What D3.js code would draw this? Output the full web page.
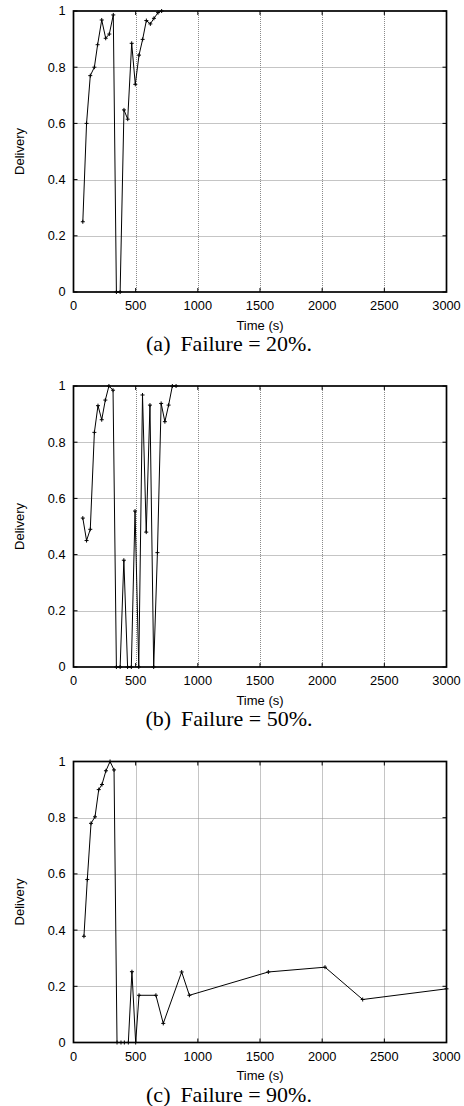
<!DOCTYPE html>
<html>
<head>
<meta charset="utf-8">
<script src="https://cdn.jsdelivr.net/npm/d3@7"></script>
<style>
  html, body { margin: 0; padding: 0; background: #fff; }
  svg { display: block; }
  .tick-label { font-family: "Liberation Sans", Arial, sans-serif; font-size: 12.8px; fill: #000; }
  .axis-title { font-family: "Liberation Sans", Arial, sans-serif; font-size: 13px; fill: #000; }
  .caption { font-family: "Liberation Serif", "Times New Roman", serif; font-size: 22px; fill: #000; }
</style>
</head>
<body>
<svg id="chart" width="464" height="1106"></svg>
<script>
// Delivery ratio over time for three failure rates
const timesA = [75, 105, 135, 168, 194, 227, 259, 288, 320, 345, 375, 406, 436, 468, 497, 527, 556, 586, 618, 647, 680, 709];
const deliveryA = [0.25, 0.60, 0.77, 0.80, 0.88, 0.968, 0.903, 0.918, 0.986, 0, 0, 0.648, 0.615, 0.885, 0.739, 0.843, 0.899, 0.966, 0.954, 0.974, 0.994, 1.0];

const timesB = [75, 105, 135, 168, 197, 227, 256, 285, 318, 345, 375, 405, 435, 465, 495, 525, 555, 585, 615, 645, 675, 705, 735, 765, 795, 825];
const deliveryB = [0.53, 0.45, 0.49, 0.835, 0.93, 0.88, 0.95, 1.0, 0.985, 0, 0, 0.38, 0, 0, 0.555, 0, 0.968, 0.48, 0.932, 0, 0.407, 0.938, 0.873, 0.932, 1.0, 1.0];

const timesC = [84, 111, 141, 173, 203, 229, 261, 294, 326, 350, 382, 409, 441, 470, 500, 527, 663, 722, 870, 932, 1567, 2023, 2326, 3000];
const deliveryC = [0.378, 0.58, 0.78, 0.803, 0.90, 0.918, 0.967, 1.0, 0.97, 0, 0, 0, 0, 0.252, 0, 0.168, 0.168, 0.068, 0.251, 0.168, 0.251, 0.268, 0.153, 0.191];

const captions = ["(a)", "(b)", "(c)"];
const failureLabels = ["Failure = 20%.", "Failure = 50%.", "Failure = 90%."];

const xTicks = [0, 500, 1000, 1500, 2000, 2500, 3000];
const yTicks = [0, 0.2, 0.4, 0.6, 0.8, 1];
const xTitle = "Time (s)";
const yTitle = "Delivery";

const panels = [
  { times: timesA, values: deliveryA },
  { times: timesB, values: deliveryB },
  { times: timesC, values: deliveryC }
];

const svg = d3.select("#chart");
const left = 73.5, right = 446.5;
const panelTops = [11, 386, 761.5];
const plotH = 281;

const x = d3.scaleLinear().domain([0, 3000]).range([left, right]);

panels.forEach((p, i) => {
  const top = panelTops[i], bottom = top + plotH;
  const y = d3.scaleLinear().domain([0, 1]).range([bottom, top]);
  const g = svg.append("g");

  // dotted grid
  g.selectAll("line.gx").data(xTicks.filter(t => t > 0 && t < 3000)).join("line")
    .attr("x1", d => Math.round(x(d)) + 0.5).attr("x2", d => Math.round(x(d)) + 0.5)
    .attr("y1", top).attr("y2", bottom)
    .attr("stroke", "#8a8a8a").attr("stroke-width", 1).attr("stroke-dasharray", "1,1");
  g.selectAll("line.gy").data(yTicks.filter(t => t > 0 && t < 1)).join("line")
    .attr("y1", d => Math.round(y(d)) + 0.5).attr("y2", d => Math.round(y(d)) + 0.5)
    .attr("x1", left).attr("x2", right)
    .attr("stroke", "#8a8a8a").attr("stroke-width", 1).attr("stroke-dasharray", "1,1");

  // inward ticks on all four sides
  const tl = 4;
  xTicks.forEach(t => {
    g.append("line").attr("x1", x(t)).attr("x2", x(t)).attr("y1", bottom).attr("y2", bottom - tl).attr("stroke", "#000");
    g.append("line").attr("x1", x(t)).attr("x2", x(t)).attr("y1", top).attr("y2", top + tl).attr("stroke", "#000");
  });
  yTicks.forEach(t => {
    g.append("line").attr("x1", left).attr("x2", left + tl).attr("y1", y(t)).attr("y2", y(t)).attr("stroke", "#000");
    g.append("line").attr("x1", right).attr("x2", right - tl).attr("y1", y(t)).attr("y2", y(t)).attr("stroke", "#000");
  });

  // frame
  g.append("rect").attr("x", left).attr("y", top).attr("width", right - left).attr("height", plotH)
    .attr("fill", "none").attr("stroke", "#000").attr("stroke-width", 1.7);

  // tick labels
  g.selectAll("text.xt").data(xTicks).join("text")
    .attr("class", "tick-label").attr("x", d => x(d)).attr("y", bottom + 18)
    .attr("text-anchor", "middle").text(d => d);
  g.selectAll("text.yt").data(yTicks).join("text")
    .attr("class", "tick-label").attr("x", 65.5).attr("y", d => y(d)).attr("dy", "0.35em")
    .attr("text-anchor", "end").text(d => d3.format("~g")(d));

  // axis titles
  g.append("text").attr("class", "axis-title").attr("x", (left + right) / 2).attr("y", bottom + 37.5)
    .attr("text-anchor", "middle").text(xTitle);
  g.append("text").attr("class", "axis-title")
    .attr("transform", `translate(23.5,${(top + bottom) / 2}) rotate(-90)`)
    .attr("text-anchor", "middle").text(yTitle);

  // series line with plus markers
  const pts = p.times.map((t, k) => [t, p.values[k]]);
  g.append("path").datum(pts)
    .attr("d", d3.line().x(d => x(d[0])).y(d => y(d[1])))
    .attr("fill", "none").attr("stroke", "#000").attr("stroke-width", 1);
  const s = 2;
  g.selectAll("path.mk").data(pts).join("path")
    .attr("d", d => {
      const cx = x(d[0]), cy = y(d[1]);
      return `M${cx - s},${cy}H${cx + s}M${cx},${cy - s}V${cy + s}`;
    })
    .attr("stroke", "#000").attr("stroke-width", 1).attr("fill", "none");

  // subfigure caption
  const cap = g.append("text").attr("class", "caption").attr("x", 229).attr("y", bottom + 59)
    .attr("text-anchor", "middle");
  cap.append("tspan").text(captions[i]);
  cap.append("tspan").attr("dx", "0.45em").text(failureLabels[i]);
});
</script>
</body>
</html>
